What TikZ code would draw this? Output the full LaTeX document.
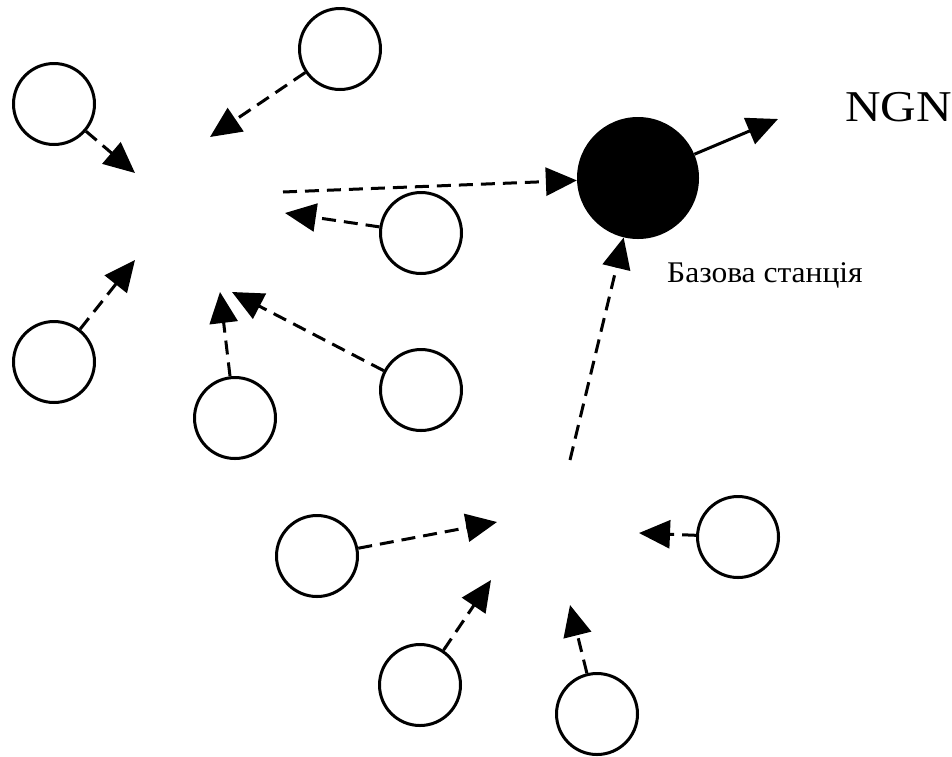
\documentclass[tikz,border=0pt]{standalone}
\usepackage{fontspec}
\setmainfont{Liberation Serif}
\usetikzlibrary{arrows.meta}
\begin{document}
\begin{tikzpicture}[x=1pt,y=-1pt,
  node/.style={circle,draw,line width=3pt,minimum size=81pt,inner sep=0pt,fill=white},
  bsnode/.style={circle,fill=black,minimum size=122pt,inner sep=0pt},
  link/.style={line width=3pt,dash pattern=on 14pt off 8pt,-{Triangle[length=31pt,width=28pt]}},
  solidlink/.style={line width=3pt,-{Triangle[length=31pt,width=28pt]}},
  lbl/.style={anchor=base west,inner sep=0pt}]
\useasboundingbox (0,0) rectangle (952,756);
% nodes
\node[node] (c1) at (340,49) {};
\node[node] (c2) at (54,104) {};
\node[node] (c3) at (421,233) {};
\node[node] (c4) at (54,362) {};
\node[node] (c5) at (421,390) {};
\node[node] (c6) at (235,418) {};
\node[node] (c7) at (317,556) {};
\node[node] (c8) at (738,537) {};
\node[node] (c9) at (420,685) {};
\node[node] (c10) at (597,714) {};
\node[bsnode] (bs) at (638,178) {};
% free ends
\coordinate (t1) at (210,137);
\coordinate (t2) at (135,173);
\coordinate (t3) at (285,213);
\coordinate (t4) at (135,260);
\coordinate (t5) at (232,292);
\coordinate (t6) at (220,292);
\coordinate (s0) at (283,192);
\coordinate (s1) at (570,460);
\coordinate (t7) at (497,522);
\coordinate (t8) at (639,533);
\coordinate (t9) at (491,580);
\coordinate (t10) at (570,605);
\coordinate (ngn) at (778,119);
% connectors
\draw[link] (c1) -- (t1);
\draw[link] (c2) -- (t2);
\draw[link] (c3) -- (t3);
\draw[link] (c4) -- (t4);
\draw[link] (c5) -- (t5);
\draw[link] (c6) -- (t6);
\draw[link] (s0) -- (bs);
\draw[link] (s1) -- (bs);
\draw[link] (c7) -- (t7);
\draw[link] (c8) -- (t8);
\draw[link] (c9) -- (t9);
\draw[link] (c10) -- (t10);
\draw[solidlink] (bs) -- (ngn);
% labels
\node[lbl,font=\fontsize{44}{50}\selectfont] (ngnlabel) at (845,121) {\scalebox{1.12}[1]{NGN}};
\node[lbl,font=\fontsize{30}{34}\selectfont] (bslabel) at (667,282) {\scalebox{1.05}[1]{Базова станція}};
\end{tikzpicture}
\end{document}
